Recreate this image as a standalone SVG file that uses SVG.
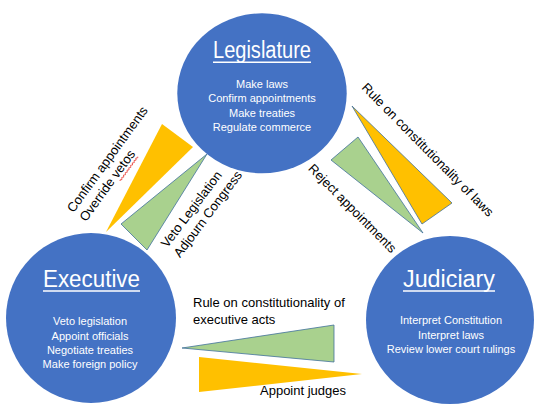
<svg xmlns="http://www.w3.org/2000/svg" width="545" height="415" viewBox="0 0 545 415">
<style>
.branch{fill:#4472C4;}
.title{font-family:"Liberation Sans",Arial,sans-serif;font-size:23px;fill:#fff;text-anchor:middle;}
.body{font-family:"Liberation Sans",Arial,sans-serif;font-size:11px;fill:#fff;text-anchor:middle;}
.ul{stroke:#fff;stroke-width:1.6;}
.lbl{font-family:"Liberation Sans",Arial,sans-serif;font-size:13px;fill:#000;}
.yel{fill:#FFC000;}
.yelo{fill:#FFC000;stroke:#41719C;stroke-width:0.8;}
.grn{fill:#A9D18E;stroke:#41719C;stroke-width:0.8;}
</style>
<rect width="545" height="415" fill="#fff"/>

<g id="legislature">
  <ellipse class="branch" cx="262" cy="93.3" rx="84.7" ry="80"/>
  <text class="title" x="262" y="58" textLength="98" lengthAdjust="spacingAndGlyphs">Legislature</text>
  <line class="ul" x1="213" y1="62.3" x2="311" y2="62.3"/>
  <text class="body" x="262" y="87.5">Make laws</text>
  <text class="body" x="262" y="102">Confirm appointments</text>
  <text class="body" x="262" y="116.5">Make treaties</text>
  <text class="body" x="262" y="131">Regulate commerce</text>
</g>

<g id="executive">
  <circle class="branch" cx="91" cy="318" r="85"/>
  <text class="title" x="91.5" y="286.7" textLength="97" lengthAdjust="spacingAndGlyphs">Executive</text>
  <line class="ul" x1="43" y1="291" x2="140" y2="291"/>
  <text class="body" x="90" y="325">Veto legislation</text>
  <text class="body" x="90" y="340">Appoint officials</text>
  <text class="body" x="90" y="354">Negotiate treaties</text>
  <text class="body" x="90" y="368">Make foreign policy</text>
</g>

<g id="judiciary">
  <circle class="branch" cx="450" cy="320" r="84"/>
  <text class="title" x="449" y="286.7" textLength="92" lengthAdjust="spacingAndGlyphs">Judiciary</text>
  <line class="ul" x1="403" y1="291" x2="495" y2="291"/>
  <text class="body" x="451" y="324">Interpret Constitution</text>
  <text class="body" x="451" y="339">Interpret laws</text>
  <text class="body" x="451" y="353">Review lower court rulings</text>
</g>

<g id="connectors">
  <g id="leg-exe">
    <polygon class="yel" points="162,124 193,147 106,232"/>
    <g transform="translate(73.6,213.3) rotate(-54)">
      <text class="lbl" x="0" y="0">Confirm appointments</text>
      <text class="lbl" x="0" y="15.4">Override vetos</text>
      <path d="M53.5 18.6 q0.75 -1.4 1.5 0 t1.5 0 t1.5 0 t1.5 0 t1.5 0 t1.5 0 t1.5 0 t1.5 0 t1.5 0 t1.5 0 t1.5 0 t1.5 0 t1.5 0 t1.5 0 t1.5 0 t1.5 0 t1.5 0 t1.5 0 t1.5 0 t1.5 0" fill="none" stroke="#E8413A" stroke-width="0.8"/>
    </g>
  </g>
  <g id="exe-leg">
    <polygon class="grn" points="207,154 121,224 147,250"/>
    <g transform="translate(167.3,248.6) rotate(-53)">
      <text class="lbl" x="0" y="0">Veto Legislation</text>
      <text class="lbl" x="0" y="16">Adjourn Congress</text>
    </g>
  </g>
  <g id="jud-leg">
    <polygon class="yelo" points="352,106 452,203 422,224"/>
    <text class="lbl" transform="translate(360.9,88.3) rotate(45.4)">Rule on constitutionality of laws</text>
  </g>
  <g id="leg-jud">
    <polygon class="grn" points="358,137 331,160 423,233"/>
    <text class="lbl" transform="translate(307.6,169.3) rotate(45.3)">Reject appointments</text>
  </g>
  <g id="jud-exe">
    <polygon class="grn" points="182,348 334,325 334,362"/>
    <text class="lbl" x="193" y="307">Rule on constitutionality of</text>
    <text class="lbl" x="193" y="324">executive acts</text>
  </g>
  <g id="exe-jud">
    <polygon class="yel" points="199,357 199,392 362,374"/>
    <text class="lbl" x="260" y="395">Appoint judges</text>
  </g>
</g>
</svg>
